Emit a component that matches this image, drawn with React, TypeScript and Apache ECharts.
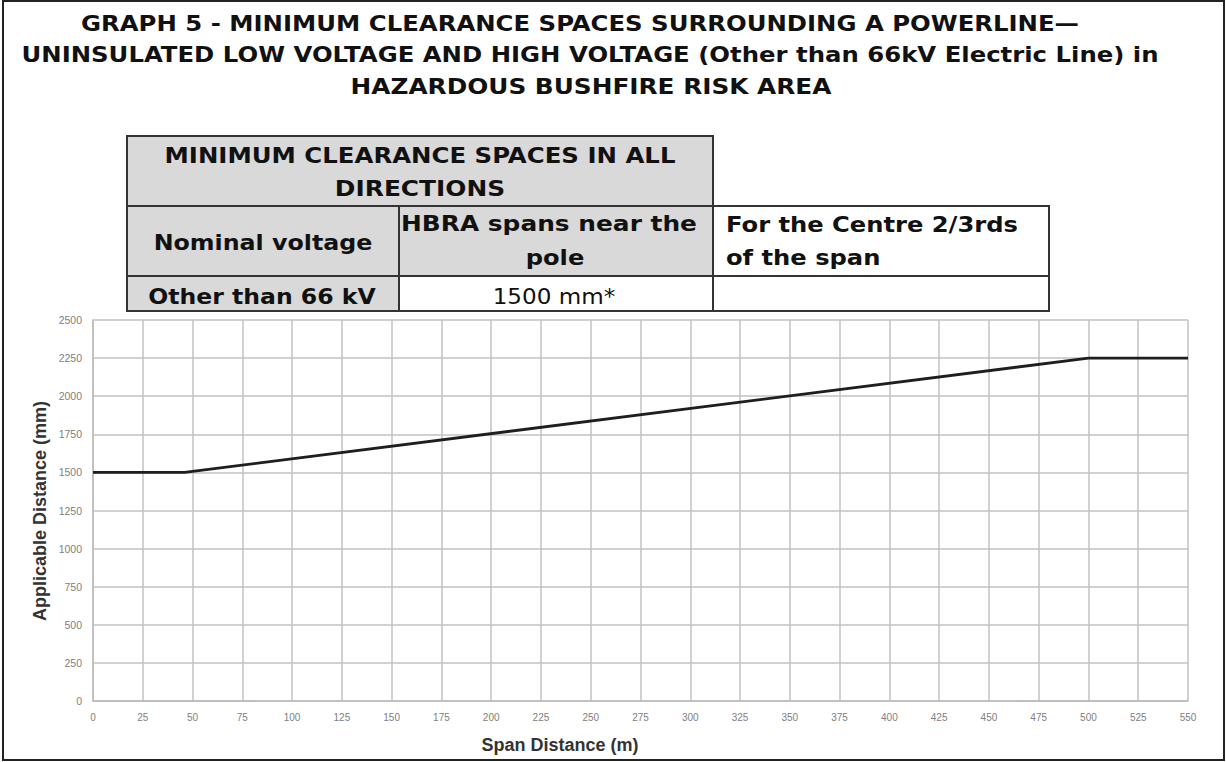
import React, { useEffect, useRef } from "react";
import * as echarts from "echarts";

// ---- data ----
const spanDistance = [0, 46, 500, 550];
const applicableDistance = [1500, 1500, 2250, 2250];
const xMin = 0, xMax = 550, xStep = 25;
const yMin = 0, yMax = 2500, yStep = 250;

const titleLines = [
  "GRAPH 5 - MINIMUM CLEARANCE SPACES SURROUNDING A POWERLINE\u2014",
  "UNINSULATED LOW VOLTAGE AND HIGH VOLTAGE (Other than 66kV Electric Line) in",
  "HAZARDOUS BUSHFIRE RISK AREA",
];
const tableHeaderLines = ["MINIMUM CLEARANCE SPACES IN ALL", "DIRECTIONS"];
const colNominal = ["Nominal voltage"];
const colHbra = ["HBRA spans near the", "pole"];
const colCentre = ["For the Centre 2/3rds", "of the span"];
const rowValues = ["Other than 66 kV", "1500 mm*", ""];
const xAxisName = "Span Distance (m)";
const yAxisName = "Applicable Distance (mm)";

const TITLE = 'bold 21px "DejaVu Sans"';
const BOLD = 'bold 22px "DejaVu Sans"';
const REG = '22px "DejaVu Sans"';

function txt(text: string, x: number, y: number, font: string, sx: number, align = "center", extra: any = {}) {
  return {
    type: "text",
    x,
    y,
    scaleX: sx,
    silent: true,
    z: 20,
    style: {
      text,
      font,
      fill: "#111",
      align,
      verticalAlign: "middle",
      textAlign: align,
      textVerticalAlign: "middle",
      ...extra,
    },
  };
}

function cell(x: number, y: number, w: number, h: number, fill: string) {
  return {
    type: "rect",
    shape: { x, y, width: w, height: h },
    silent: true,
    z: 10,
    style: { fill, stroke: "#333", lineWidth: 2 },
  };
}

export default function App() {
  const ref = useRef<HTMLDivElement>(null);
  useEffect(() => {
    document.body.style.margin = "0";
    const chart = echarts.init(ref.current!, null, { renderer: "svg" });
    const graphic: any[] = [
      {
        type: "rect",
        shape: { x: 3, y: 1, width: 1221, height: 759 },
        silent: true,
        z: 5,
        style: { fill: "none", stroke: "#222", lineWidth: 2 },
      },
      txt(titleLines[0], 580, 24, TITLE, 1.16),
      txt(titleLines[1], 590, 55, TITLE, 1.16),
      txt(titleLines[2], 591, 87, TITLE, 1.18),
      cell(127, 136, 586, 70, "#d9d9d9"),
      cell(127, 206, 272, 70, "#d9d9d9"),
      cell(399, 206, 314, 70, "#d9d9d9"),
      cell(713, 206, 336, 70, "#ffffff"),
      cell(127, 276, 272, 35, "#d9d9d9"),
      cell(399, 276, 314, 35, "#ffffff"),
      cell(713, 276, 336, 35, "#ffffff"),
      txt(tableHeaderLines[0], 420, 155, BOLD, 1.11),
      txt(tableHeaderLines[1], 420, 189, BOLD, 1.13),
      txt(colNominal[0], 263, 242, BOLD, 1.08),
      txt(colHbra[0], 549, 224, BOLD, 1.13),
      txt(colHbra[1], 555, 257, BOLD, 1.1),
      txt(colCentre[0], 726, 224, BOLD, 1.1, "left"),
      txt(colCentre[1], 726, 257, BOLD, 1.1, "left"),
      txt(rowValues[0], 262, 296, BOLD, 1.07),
      txt(rowValues[1], 554, 296, REG, 1.05),
      txt(rowValues[2], 881, 296, REG, 1.05),
      {
        type: "text",
        x: 40,
        y: 511,
        rotation: Math.PI / 2,
        silent: true,
        style: {
          text: yAxisName,
          font: 'bold 18px "Liberation Sans"',
          fill: "#333",
          align: "center",
          verticalAlign: "middle",
          textAlign: "center",
          textVerticalAlign: "middle",
        },
      },
      {
        type: "text",
        x: 560,
        y: 745,
        silent: true,
        style: {
          text: xAxisName,
          font: 'bold 18px "Liberation Sans"',
          fill: "#333",
          align: "center",
          verticalAlign: "middle",
          textAlign: "center",
          textVerticalAlign: "middle",
        },
      },
    ];

    const plain = (v: number) => String(v);

    chart.setOption({
      animation: false,
      backgroundColor: "#ffffff",
      grid: { left: 93, right: 38, top: 320, bottom: 61, containLabel: false },
      xAxis: {
        type: "value",
        min: xMin,
        max: xMax,
        interval: xStep,
        axisLine: { show: true, lineStyle: { color: "#bbbbbb", width: 1.5 } },
        axisTick: { show: false },
        axisLabel: { fontSize: 10, color: "#808080", margin: 11, fontFamily: "Liberation Sans", formatter: plain },
        splitLine: { show: true, lineStyle: { color: "#c2c2c2", width: 1.5 } },
      },
      yAxis: {
        type: "value",
        min: yMin,
        max: yMax,
        interval: yStep,
        axisLine: { show: true, lineStyle: { color: "#bbbbbb", width: 1.5 } },
        axisTick: { show: false },
        axisLabel: { fontSize: 10.5, color: "#808080", margin: 11, fontFamily: "Liberation Sans", formatter: plain },
        splitLine: { show: true, lineStyle: { color: "#c2c2c2", width: 1.5 } },
      },
      series: [
        {
          type: "line",
          data: spanDistance.map((x, i) => [x, applicableDistance[i]]),
          symbol: "none",
          lineStyle: { color: "#1e1e1e", width: 2.8 },
          z: 5,
        },
      ],
      graphic,
    });
    return () => chart.dispose();
  }, []);
  return (
    <div
      ref={ref}
      style={{ position: "absolute", left: 0, top: 0, width: 1226, height: 762, background: "#fff" }}
    />
  );
}
